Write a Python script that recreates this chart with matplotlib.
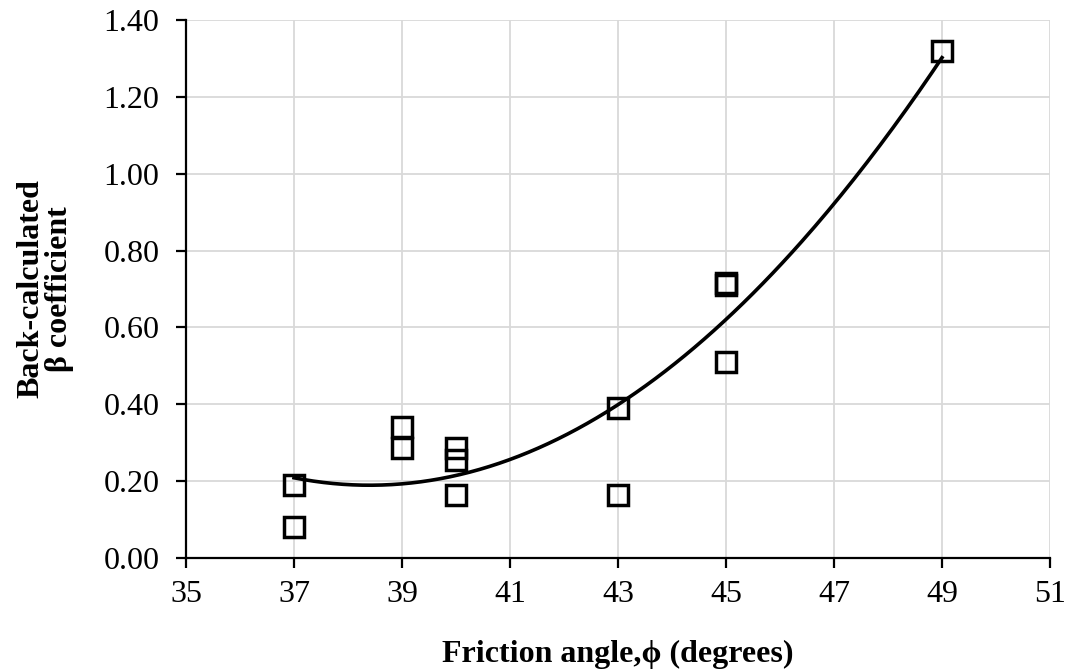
import numpy as np
import matplotlib
matplotlib.use("Agg")
from matplotlib import pyplot as plt

plt.rcParams['font.family'] = ['Liberation Serif', 'DejaVu Serif']

# friction angle (deg) and back-calculated beta
phi = [37, 37, 39, 39, 40, 40, 40, 43, 43, 45, 45, 45, 49]
beta = [0.19, 0.08, 0.34, 0.285, 0.285, 0.255, 0.165, 0.39, 0.165, 0.715, 0.71, 0.51, 1.32]

x_ticks = [35, 37, 39, 41, 43, 45, 47, 49, 51]
y_ticks = [0.0, 0.2, 0.4, 0.6, 0.8, 1.0, 1.2, 1.4]

fig = plt.figure(figsize=(10.7, 6.7), dpi=100)
ax = fig.add_axes([186/1070, 1 - 558/670, (1050-186)/1070, (558-20)/670])

# 2nd order polynomial trend
coef = np.polyfit(phi, beta, 2)
xs = np.linspace(min(phi), max(phi), 200)
ax.plot(xs, np.polyval(coef, xs), color='black', lw=2.6, zorder=3)

ax.plot(phi, beta, linestyle='none', marker='s', markersize=14,
        markerfacecolor='none', markeredgecolor='black', markeredgewidth=2.5, zorder=4)

ax.set_xlim(35, 51)
ax.set_ylim(0, 1.4)
ax.set_xticks(x_ticks)
ax.set_yticks(y_ticks)
ax.set_yticklabels([f"{v:.2f}" for v in y_ticks])
ax.grid(True, color='#d9d9d9', lw=1.3)
ax.set_axisbelow(True)

for s in ['top', 'right']:
    ax.spines[s].set_visible(False)
for s in ['left', 'bottom']:
    ax.spines[s].set_linewidth(1.6)
ax.tick_params(direction='out', length=7, width=1.6, labelsize=23)
ax.tick_params(axis='y', pad=12)
ax.tick_params(axis='x', pad=9)

ax.set_xlabel('Friction angle,ϕ (degrees)', fontsize=23, fontweight='bold', labelpad=22)
ax.set_ylabel('Back-calculated\nβ coefficient', fontsize=23, fontweight='bold', labelpad=21,
              linespacing=1.0)

fig.savefig('out.png', dpi=100)
